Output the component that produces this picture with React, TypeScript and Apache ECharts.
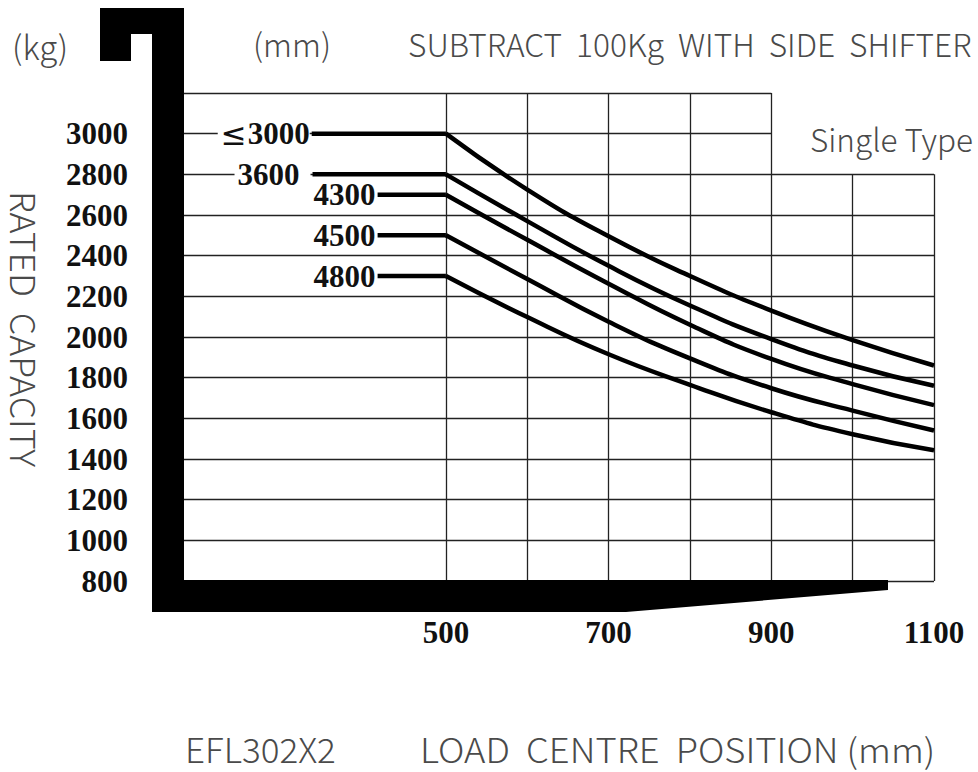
import React, { useEffect, useRef } from "react";
import * as echarts from "echarts";

// ---- data ----
const loadCentres = [500, 600, 700, 800, 900, 1000, 1100];
const models = ["≤3000", "3600", "4300", "4500", "4800"];
const capLe3000 = [3000, 2725, 2495, 2300, 2130, 1985, 1860];
const cap3600 = [2800, 2570, 2350, 2155, 1990, 1860, 1760];
const cap4300 = [2700, 2478, 2262, 2060, 1892, 1768, 1665];
const cap4500 = [2500, 2285, 2075, 1895, 1748, 1638, 1540];
const cap4800 = [2300, 2098, 1915, 1765, 1630, 1522, 1443];
const capacities = [capLe3000, cap3600, cap4300, cap4500, cap4800];
const flatStarts = [335, 336, 416, 416, 416]; // load centre where each label's line begins
const xLabelValues = [500, 700, 900, 1100];
const yTicks = [800, 1000, 1200, 1400, 1600, 1800, 2000, 2200, 2400, 2600, 2800, 3000, 3200];
const vGridTall = [500, 600, 700, 800, 900]; // vertical lines up to 3200
const vGridShort = [1000, 1100]; // vertical lines up to 2800
const X_MIN = 178;
const X_MAX = 1100;
const Y_MIN = 800;
const Y_MAX = 3200;

const TEXT_GRAY = "#4a4a4a";
const TITLE_FONT = "'Noto Sans CJK SC', 'Noto Sans', sans-serif";
const NUM_FONT = "'Liberation Serif', serif";

export default function App() {
  const ref = useRef<HTMLDivElement>(null);

  useEffect(() => {
    if (!ref.current) return;
    const chart = echarts.init(ref.current, undefined, { renderer: "svg" });

    // grid line segments (data coordinates)
    const gridSegs: any[] = [];
    yTicks.forEach((v) => {
      const xEnd = v >= 3000 ? 900 : X_MAX;
      gridSegs.push([{ coord: [X_MIN, v] }, { coord: [xEnd, v] }]);
    });
    vGridTall.forEach((x) => gridSegs.push([{ coord: [x, Y_MIN] }, { coord: [x, Y_MAX] }]));
    vGridShort.forEach((x) => gridSegs.push([{ coord: [x, Y_MIN] }, { coord: [x, 2800] }]));

    const series: any[] = [
      {
        type: "line",
        name: "grid",
        data: [[500, 800]],
        symbol: "none",
        lineStyle: { opacity: 0 },
        silent: true,
        z: 1,
        markLine: {
          silent: true,
          symbol: ["none", "none"],
          label: { show: false },
          lineStyle: { color: "#222", width: 1.3, type: "solid" },
          emphasis: { disabled: true },
          data: gridSegs,
        },
      },
    ];

    models.forEach((m, i) => {
      const caps = capacities[i];
      const padRight = i === 1 ? 11 : 0;
      const isLe = m.startsWith("≤");
      series.push({
        type: "line",
        name: m + "-flat",
        z: 5,
        symbol: "circle",
        symbolSize: 0,
        showSymbol: true,
        lineStyle: { color: "#000", width: 4.5 },
        silent: true,
        data: [
          {
            value: [flatStarts[i], caps[0]],
            label: {
              show: true,
              position: "left",
              distance: 2,
              formatter: isLe ? "{le|≤}" + m.slice(1) : m,
              fontFamily: NUM_FONT,
              fontWeight: "bold",
              fontSize: 31,
              color: "#111",
              backgroundColor: "#fff",
              padding: [0, padRight, 0, 3],
              rich: {
                le: {
                  fontFamily: "'DejaVu Sans', sans-serif",
                  fontWeight: "normal",
                  fontSize: 31,
                  color: "#111",
                  padding: [0, 1, 0, 0],
                },
              },
            },
          },
          [loadCentres[0], caps[0]],
        ],
      });
      series.push({
        type: "line",
        name: m,
        z: 5,
        smooth: 0.5,
        showSymbol: false,
        lineStyle: { color: "#000", width: 4.5 },
        silent: true,
        data: loadCentres.map((x, k) => [x, caps[k]]),
      });
    });

    const titleText = (text: string, x: number, y: number, size: number, scaleX = 1) => ({
      type: "text",
      x,
      y,
      scaleX,
      z: 20,
      style: {
        text,
        fill: TEXT_GRAY,
        fontFamily: TITLE_FONT,
        fontWeight: 300,
        fontSize: size,
        align: "left",
        verticalAlign: "middle",
      },
    });

    chart.setOption({
      animation: false,
      backgroundColor: "#fff",
      grid: { left: 184, right: 44, top: 93, bottom: 191, containLabel: false },
      xAxis: {
        type: "value",
        min: X_MIN,
        max: X_MAX,
        axisLine: { show: false },
        axisTick: { show: false },
        splitLine: { show: false },
        axisLabel: {
          customValues: xLabelValues,
          formatter: (v: number) => String(v),
          margin: 36,
          fontFamily: NUM_FONT,
          fontWeight: "bold",
          fontSize: 31,
          color: "#111",
        },
      },
      yAxis: {
        type: "value",
        min: Y_MIN,
        max: Y_MAX,
        interval: 200,
        axisLine: { show: false },
        axisTick: { show: false },
        splitLine: { show: false },
        axisLabel: {
          margin: 56,
          fontFamily: NUM_FONT,
          fontWeight: "bold",
          fontSize: 31,
          color: "#111",
          formatter: (v: number) => (v === 3200 ? "" : String(v)),
        },
      },
      series,
      graphic: [
        {
          type: "polygon",
          z: 10,
          silent: true,
          shape: {
            points: [
              [100, 8], [184, 8], [184, 580], [888, 580], [888, 590], [626, 612],
              [152, 612], [152, 34], [131, 34], [131, 61], [100, 61],
            ],
          },
          style: { fill: "#000" },
        },
        titleText("(kg)", 12, 46, 33),
        titleText("(mm)", 253, 43, 32),
        titleText("SUBTRACT  100Kg  WITH  SIDE  SHIFTER", 408, 43, 31.7),
        titleText("Single Type", 810, 138, 31.5),
        titleText("EFL302X2", 185, 748, 34, 1.03),
        titleText("LOAD  CENTRE  POSITION (mm)", 420, 748, 34, 1.07),
        {
          type: "text",
          x: 25,
          y: 329,
          rotation: -Math.PI / 2,
          scaleX: 1.05,
          z: 20,
          style: {
            text: "RATED  CAPACITY",
            fill: TEXT_GRAY,
            fontFamily: TITLE_FONT,
            fontWeight: 300,
            fontSize: 34,
            align: "center",
            verticalAlign: "middle",
          },
        },
      ],
    });

    return () => chart.dispose();
  }, []);

  return (
    <div
      ref={ref}
      style={{ position: "fixed", left: 0, top: 0, width: 978, height: 772, background: "#fff" }}
    />
  );
}
